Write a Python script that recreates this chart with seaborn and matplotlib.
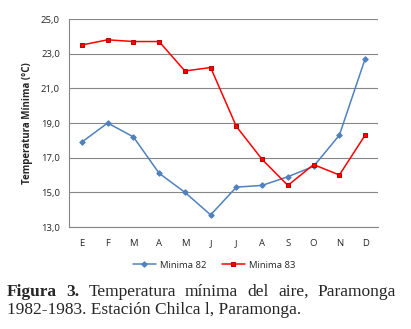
import matplotlib
matplotlib.use("Agg")
import matplotlib.pyplot as plt
import seaborn as sns
import pandas as pd
import numpy as np

months = ["E", "F", "M", "A", "M", "J", "J", "A", "S", "O", "N", "D"]
minima_82 = [17.9, 19.0, 18.2, 16.1, 15.0, 13.7, 15.3, 15.4, 15.9, 16.5, 18.3, 22.7]
minima_83 = [23.5, 23.8, 23.7, 23.7, 22.0, 22.2, 18.8, 16.9, 15.4, 16.6, 16.0, 18.3]
series_names = ["Minima 82", "Minima 83"]
yticks = [13.0, 15.0, 17.0, 19.0, 21.0, 23.0, 25.0]

sns.set_style("white")
plt.rcParams['font.family'] = ['Open Sans', 'DejaVu Sans']

idx = np.arange(len(months))
df = pd.DataFrame({
    "pos": np.concatenate([idx, idx]),
    "val": minima_82 + minima_83,
    "serie": [series_names[0]] * 12 + [series_names[1]] * 12,
})

fig = plt.figure(figsize=(4.11, 3.29), dpi=100)
ax = fig.add_axes([69/411, 1 - 227/329, (378 - 69)/411, (227 - 19)/329])

colors = {"Minima 82": "#4F81BD", "Minima 83": "#FF0000"}
sns.lineplot(data=df[df.serie == "Minima 82"], x="pos", y="val", ax=ax,
             color=colors["Minima 82"], marker="D", markersize=2.8,
             markeredgecolor=colors["Minima 82"], linewidth=1.1, label="Minima 82")
sns.lineplot(data=df[df.serie == "Minima 83"], x="pos", y="val", ax=ax,
             color=colors["Minima 83"], marker="s", markersize=3.4,
             markeredgecolor="#C00000", linewidth=1.1, label="Minima 83")

ax.set_xlim(-0.5, 11.5)
ax.set_ylim(13, 25)
ax.set_yticks(yticks)
ax.set_yticklabels([f"{v:.1f}".replace(".", ",") for v in yticks], fontsize=6.8)
ax.set_xticks(idx)
ax.set_xticklabels(months, fontsize=6.8)
ax.tick_params(axis="x", length=0, pad=9)
ax.set_xticks(np.arange(-0.5, 12, 1), minor=True)
ax.tick_params(axis="x", which="minor", length=3.5, color="#868686", width=0.8, direction="out")
ax.tick_params(axis="y", length=3.5, color="#868686", width=0.8, direction="out", pad=3)
ax.yaxis.grid(True, color="#868686", linewidth=0.8)
ax.xaxis.grid(False)
for s in ["top", "right"]:
    ax.spines[s].set_visible(False)
for s in ["left", "bottom"]:
    ax.spines[s].set_color("#868686")
    ax.spines[s].set_linewidth(0.8)
ax.set_xlabel("")
ax.set_ylabel("Temperatura Mínima (°C)", fontsize=7, fontweight="bold", labelpad=6)

ax.get_legend().remove()
h, l = ax.get_legend_handles_labels()
fig.legend(h, l, loc="center", bbox_to_anchor=(214/411, 1 - 265/329), ncol=2,
           frameon=False, fontsize=6.8, handlelength=2.5, columnspacing=1.6,
           handletextpad=0.4)

# caption: first line justified between left and right margins
W, H = 411, 329
left_px, right_px = 7, 396
cap_y1 = 1 - 296/H
words1 = [("Figura", "bold"), ("3.", "bold"), ("Temperatura", "normal"),
          ("mínima", "normal"), ("del", "normal"), ("aire,", "normal"),
          ("Paramonga", "normal")]
renderer = fig.canvas.get_renderer()
texts = []
widths = []
for w, fw in words1:
    t = fig.text(0, cap_y1, w, fontsize=12.5, fontweight=fw, family="Liberation Serif",
                 ha="left", va="baseline")
    widths.append(t.get_window_extent(renderer).width)
    texts.append(t)
gap = (right_px - left_px - sum(widths)) / (len(texts) - 1)
x = left_px
for t, wd in zip(texts, widths):
    t.set_x(x / W)
    x += wd + gap
fig.text(left_px/W, 1 - 314/H, "1982-1983. Estación Chilca l, Paramonga.", fontsize=12.5,
         family="Liberation Serif", ha="left", va="baseline")

fig.savefig("out.png", dpi=100)
